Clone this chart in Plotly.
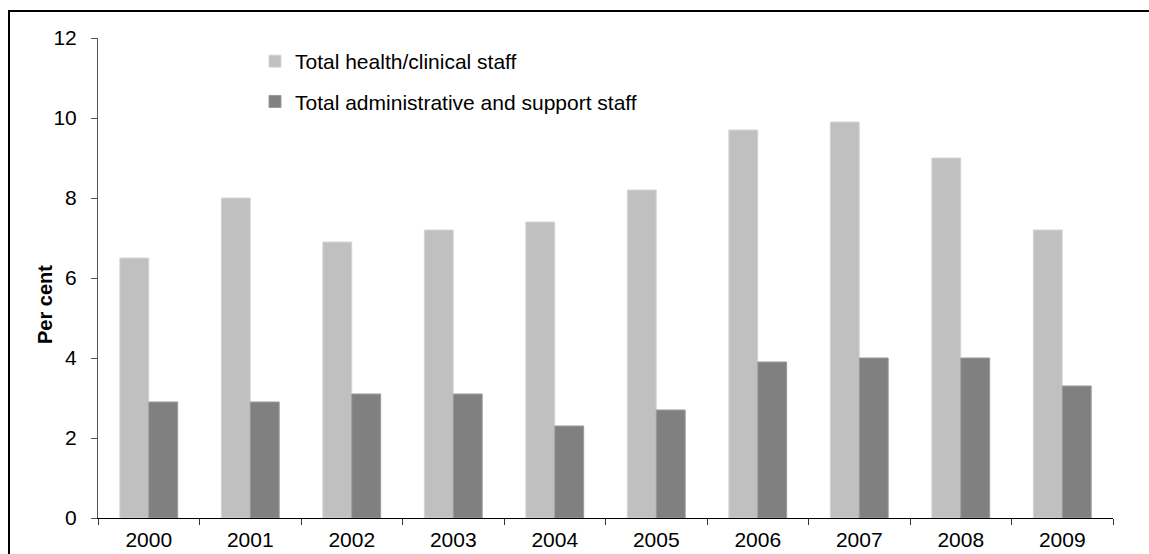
import plotly.graph_objects as go

years = ["2000", "2001", "2002", "2003", "2004", "2005", "2006", "2007", "2008", "2009"]
health_clinical = [6.5, 8.0, 6.9, 7.2, 7.4, 8.2, 9.7, 9.9, 9.0, 7.2]
admin_support = [2.9, 2.9, 3.1, 3.1, 2.3, 2.7, 3.9, 4.0, 4.0, 3.3]
y_ticks = [0, 2, 4, 6, 8, 10, 12]

FONT = "Liberation Sans, Arial, sans-serif"

fig = go.Figure()
fig.add_trace(go.Bar(
    x=years, y=health_clinical, name="Total health/clinical staff",
    marker=dict(color="#c0c0c0", line=dict(color="#d6d6d6", width=1)),
    legendgroup="a",
))
fig.add_trace(go.Bar(
    x=years, y=admin_support, name="Total administrative and support staff",
    marker=dict(color="#808080", line=dict(color="#9a9a9a", width=1)),
    legendgroup="b",
))

W, H = 1149, 554
L, R, T, B = 98, 36, 38, 36
pw, ph = W - L - R, H - T - B

def px_x(p):
    return (p - L) / pw

def px_y(p):
    return (H - B - p) / ph

fig.update_layout(
    width=W, height=H,
    margin=dict(l=L, r=R, t=T, b=B, autoexpand=False),
    paper_bgcolor="white", plot_bgcolor="white",
    barmode="group", bargap=0.43, bargroupgap=0,
    font=dict(family=FONT, size=21, color="#000000"),
    legend=dict(
        x=px_x(255), y=px_y(41), xanchor="left", yanchor="top",
        bgcolor="rgba(0,0,0,0)", font=dict(size=21, family=FONT),
        tracegroupgap=10, itemwidth=30,
    ),
    xaxis=dict(
        type="category", showline=True, linecolor="#000000", linewidth=1,
        ticks="outside", tickson="boundaries", ticklen=6, tickcolor="#333333",
        tickfont=dict(size=21, family=FONT), showgrid=False, zeroline=False,
        ticklabelstandoff=3, automargin=False,
    ),
    yaxis=dict(
        range=[0, 12], tickvals=y_ticks, showline=True, linecolor="#555555", linewidth=1,
        ticks="outside", ticklen=6, tickcolor="#555555", showgrid=False, zeroline=False,
        tickfont=dict(size=21, family=FONT), ticklabelstandoff=10, automargin=False,
    ),
    annotations=[dict(
        text="<b>Per cent</b>", xref="paper", yref="paper",
        x=px_x(45), y=px_y(305), xanchor="center", yanchor="middle",
        textangle=-90, showarrow=False, font=dict(size=20, family=FONT),
    )],
    shapes=[dict(
        type="rect", xref="paper", yref="paper",
        x0=px_x(9), x1=px_x(1170), y0=px_y(11), y1=px_y(580),
        line=dict(color="#000000", width=2), fillcolor="rgba(0,0,0,0)", layer="above",
    )],
)

fig.write_html(
    "out.html",
    config={"displayModeBar": False},
    post_script="document.body.style.margin='0';document.body.style.overflow='hidden';",
)
